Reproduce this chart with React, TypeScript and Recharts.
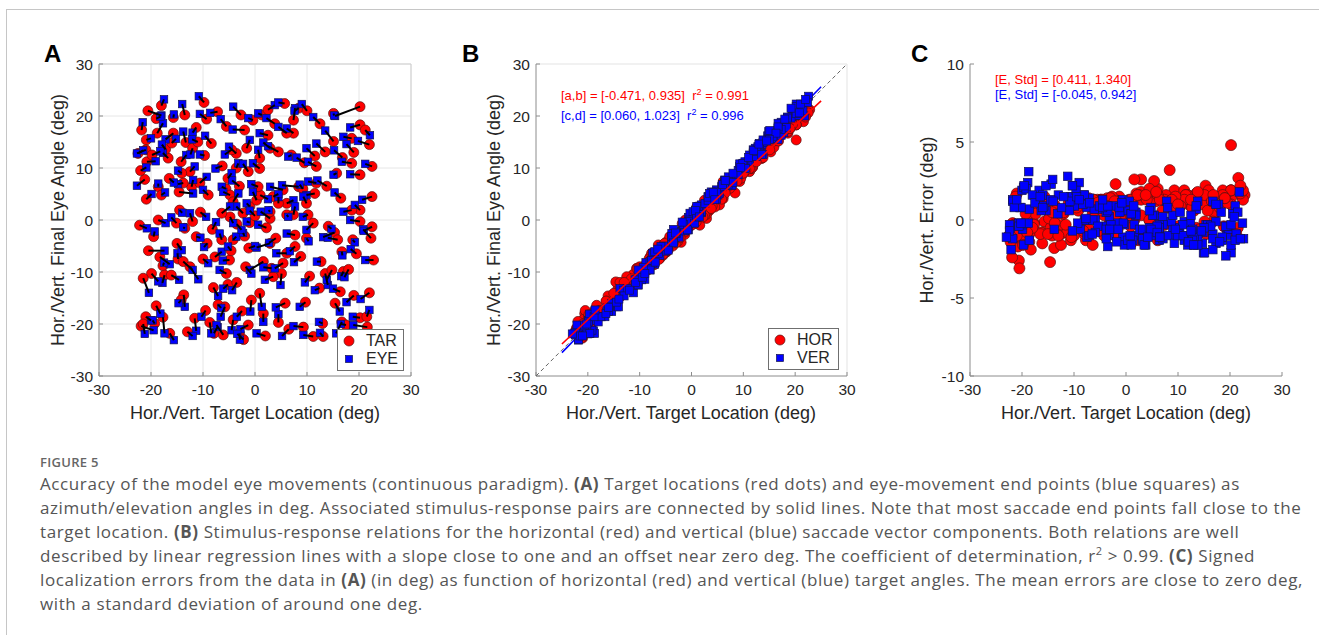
import React from 'react';
import {
  ScatterChart,
  Scatter,
  XAxis,
  YAxis,
  CartesianGrid,
  ReferenceLine,
  Legend,
} from 'recharts';

// target locations (deg)
const tarX = [
  -20.6, -21.8, -13.5, -9.8, -9.3, -8.4, -11.3, -13.3, -15.7, -18.8,
  -15.7, -20.9, -21.0, -20.8, -16.7, -14.2, -9.7, -12.5, -14.1, -21.2,
  -18.6, -18.0, -20.9, -14.6, -12.2, -10.6, -9.0, -13.8, -17.2, -19.0,
  -16.0, -12.0, -22.2, -19.5, -18.6, -15.1, -14.5, -12.0, -13.5, -11.3,
  -20.5, -18.3, -17.7, -14.8, -13.8, -17.4, -16.1, -19.9, -21.5, -12.5,
  -9.2, -10.0, -13.7, -14.2, -9.5, -11.6, -21.9, -21.0, -21.5, -17.7,
  -16.4, -19.3, -8.7, -7.9, -7.1, -5.8, -6.1, -3.0, -4.2, -0.7,
  0.9, 2.0, -1.3, 1.6, 4.5, -2.5, 9.3, 11.2, 9.7, 13.1,
  13.0, 15.4, 16.7, 20.2, 21.5, 21.6, 17.5, 13.5, 14.8, 16.4,
  17.0, 12.4, 12.7, 15.3, 15.9, 14.1, 18.8, 22.3, 22.5, 20.2,
  20.2, 22.8, 18.6, 16.7, 22.5, 20.2, 18.6, 15.7, 20.2, 15.1,
  20.2, 21.2, 18.6, 15.1, 13.5, 11.5, 11.8, 11.8, 11.5, 9.9,
  10.2, 11.2, 9.9, 7.7, 7.7, 6.1, 5.4, 5.1, 2.9, -1.2,
  1.6, 3.2, 3.5, -5.5, -5.2, -7.7, -4.9, -4.6, -6.4, -4.2,
  -2.0, 2.9, 2.9, -1.0, -2.3, -4.8, -6.4, -1.0, 0.3, 1.0,
  6.1, 4.5, 6.1, 7.4, 8.4, 5.4, 0.6, 3.5, -5.6, -4.8,
  -4.2, -5.2, -3.6, -1.3, 0.9, 2.9, 4.5, 0.9, -3.6, -1.6,
  -2.0, -2.7, -0.4, 1.3, 2.5, 5.7, 7.4, 8.4, 7.4, 6.1,
  2.5, 7.0, 9.5, 9.2, -22.5, -19.8, -16.5, -11.0, -7.2, -4.5,
  -6.3, -3.0, 0.0, 2.2, -3.5, 4.0, 8.8, 10.5, 18.0, 19.5,
  16.5, 13.8, 16.8, 19.0, 12.5, 10.0, 3.8, -5.5, -18.0, -22.0,
  -15.0, -8.0, -3.5, -1.8, -19.0, -13.0, -2.2, 6.5, 5.8, 19.0,
  22.0, 22.5, 22.0, -10.5, -8.2,
];
const tarY = [
  21.0, 17.3, 20.2, 22.6, 19.4, 14.7, 17.8, 14.9, 16.7, 16.7,
  19.7, 15.4, 13.5, 11.2, 11.9, 11.2, 12.4, 9.3, 9.0, 7.8,
  6.4, 4.8, 4.0, 5.4, 6.4, 7.1, 4.8, 7.1, 13.6, 19.5,
  14.8, 13.8, -1.0, -3.2, 0.0, -0.6, 1.9, -0.3, -1.6, -3.2,
  -5.9, -7.1, -8.8, -7.5, -8.0, -10.6, -10.6, -10.3, -11.2, -9.0,
  -4.5, -7.5, -14.4, -15.4, -17.4, -18.9, -20.4, -18.6, -20.0, -18.7,
  -21.8, -19.9, -19.7, -21.8, -16.3, -16.7, -22.1, -21.8, -19.2, -15.4,
  -14.1, -22.3, -20.2, -18.0, -19.7, -17.5, -20.6, -22.4, -15.8, -22.4,
  -19.9, -16.0, -19.6, -18.8, -18.6, -20.6, -20.2, -10.3, -9.6, -13.8,
  -9.9, -13.1, -8.0, -2.4, -3.8, -1.2, -3.8, -3.5, -1.3, -0.3,
  1.9, -7.7, 1.9, -6.1, 10.3, 8.7, 10.9, 9.0, 21.8, 20.5,
  18.3, 17.3, 15.7, 15.1, 13.1, 12.3, 10.3, 7.1, 5.1, 3.2,
  1.0, -0.6, -3.5, -2.9, -5.1, -6.4, -8.3, -10.3, -4.5, -5.4,
  -8.0, -9.3, -10.9, -10.3, -12.4, -7.1, -7.7, -5.9, -3.8, -3.8,
  -3.1, 0.3, 1.6, -0.5, 1.3, 0.6, 1.3, 2.6, 3.8, 4.8,
  3.2, 3.2, 1.0, 1.0, 6.4, 5.8, 6.4, 4.5, 6.0, 4.8,
  3.5, 8.0, 10.0, 9.3, 11.9, 13.8, 13.1, 9.9, 12.8, 13.8,
  17.3, 20.2, 19.2, 20.2, 21.2, 22.4, 19.2, 21.5, 16.7, 16.7,
  16.3, 12.5, 11.0, 6.0, 12.8, 12.5, 8.0, 15.0, 20.8, 13.5,
  10.4, 6.5, 0.8, -1.5, -0.8, -3.5, -7.0, -10.8, -9.5, -6.5,
  4.2, 6.5, 12.0, 13.0, 18.5, 21.0, 18.5, 18.0, 22.0, 9.5,
  -4.5, -13.0, -12.0, -9.0, -16.5, -21.5, -23.0, -21.0, -16.0, -14.5,
  -14.0, 4.5, 14.5, 1.5, -1.8,
];
// final eye positions (deg), same order as the targets
const eyeX = [
  -18.0, -21.6, -14.0, -10.8, -10.6, -9.6, -12.0, -13.8, -17.2, -17.7,
  -15.6, -20.0, -22.7, -19.1, -17.7, -13.2, -10.6, -11.6, -14.8, -22.7,
  -18.6, -17.3, -19.9, -11.9, -11.9, -9.3, -10.0, -14.8, -17.9, -18.2,
  -15.2, -12.4, -20.8, -19.3, -17.2, -16.1, -14.0, -12.5, -13.8, -10.5,
  -17.4, -16.4, -17.5, -14.9, -12.0, -17.8, -14.6, -18.6, -20.4, -10.9,
  -9.8, -9.0, -13.5, -14.7, -10.3, -11.3, -19.5, -20.0, -21.2, -17.4,
  -15.6, -19.7, -8.4, -7.2, -6.5, -6.6, -7.4, -2.9, -4.5, -0.9,
  1.3, 0.3, -2.8, 1.6, 4.5, -3.5, 7.4, 9.3, 8.6, 12.5,
  12.3, 16.3, 15.6, 18.8, 22.0, 18.9, 16.5, 14.0, 13.8, 15.0,
  16.6, 11.5, 11.9, 13.1, 14.0, 14.7, 19.2, 20.8, 20.9, 18.3,
  19.2, 21.2, 17.0, 16.8, 21.2, 18.3, 16.7, 15.1, 15.4, 15.2,
  18.3, 22.1, 17.0, 13.5, 11.8, 9.9, 10.2, 10.2, 9.9, 9.3,
  9.2, 9.9, 10.3, 6.1, 6.7, 4.1, 3.8, 4.9, 0.3, 0.0,
  -1.0, 1.6, 1.9, -6.8, -6.1, -6.4, -6.2, -5.2, -6.8, -3.6,
  -2.3, 1.1, 2.6, -1.6, -3.6, -4.2, -4.8, -1.6, -0.4, 2.5,
  7.4, 4.5, 6.4, 7.7, 5.2, 2.9, -0.7, 4.5, -6.4, -6.1,
  -3.2, -4.5, -3.2, -2.3, 0.6, 1.6, 2.5, -0.4, -5.0, -1.0,
  -4.3, -4.2, -1.3, 0.6, 3.8, 4.5, 7.7, 7.6, 6.1, 4.5,
  0.9, 6.4, 8.0, 8.6, -21.5, -18.2, -15.6, -12.1, -8.6, -5.8,
  -7.6, -4.4, -1.0, 0.6, -2.6, 2.7, 7.5, 9.6, 17.2, 18.4,
  15.3, 12.0, 15.2, 17.6, 11.2, 9.0, 2.2, -6.6, -17.5, -20.9,
  -14.1, -7.1, -4.4, -0.7, -18.2, -12.0, -3.4, 5.2, 4.0, 17.6,
  20.3, 20.6, 19.8, -9.4, -7.5,
];
const eyeY = [
  20.1, 18.8, 22.3, 23.8, 20.4, 16.2, 16.8, 17.0, 15.5, 18.6,
  20.3, 15.7, 12.8, 11.3, 12.9, 12.5, 12.6, 10.3, 9.5, 6.6,
  7.0, 5.3, 5.0, 5.1, 7.7, 8.3, 5.8, 6.9, 14.5, 19.9,
  15.6, 12.6, -1.6, -2.2, -0.6, 0.5, 1.4, 1.3, -1.4, -3.4,
  -5.9, -8.5, -8.2, -6.4, -9.6, -12.1, -11.5, -11.8, -14.0, -11.4,
  -5.2, -8.3, -16.7, -16.0, -18.6, -21.3, -21.2, -19.3, -21.9, -21.8,
  -23.1, -19.3, -21.8, -20.6, -16.9, -18.6, -20.2, -23.0, -21.2, -17.6,
  -16.7, -21.8, -21.0, -19.6, -18.1, -18.6, -20.4, -22.1, -16.7, -21.7,
  -19.6, -17.6, -21.8, -18.6, -17.3, -20.2, -20.0, -12.5, -11.5, -13.2,
  -10.8, -13.5, -8.0, -3.3, -3.4, -1.7, -4.3, -1.8, -2.1, 0.0,
  2.9, -7.7, 1.6, -6.8, 10.8, 8.8, 11.2, 8.7, 20.0, 20.1,
  17.8, 16.3, 16.0, 17.2, 14.7, 13.8, 11.2, 7.4, 4.8, 4.5,
  0.6, -1.9, -4.1, -2.6, -6.0, -6.4, -9.3, -12.5, -5.3, -5.0,
  -9.6, -9.1, -11.5, -9.6, -13.2, -6.1, -7.8, -5.1, -2.6, -3.2,
  -2.5, 1.6, 1.9, -0.3, 2.6, -0.6, 2.6, 3.2, 5.4, 4.0,
  3.8, 4.4, 0.6, 2.6, 6.7, 6.4, 6.9, 5.0, 6.4, 5.4,
  5.1, 9.0, 10.9, 10.8, 13.5, 14.9, 14.2, 10.9, 14.1, 15.4,
  17.4, 21.8, 19.6, 20.5, 22.1, 22.6, 21.5, 21.0, 17.6, 17.9,
  16.7, 12.2, 12.0, 6.8, 13.4, 13.2, 7.2, 15.5, 20.6, 12.6,
  9.9, 7.6, 1.8, -0.9, -1.9, -4.4, -8.1, -12.0, -11.0, -5.6,
  5.3, 7.6, 13.4, 14.6, 19.8, 22.3, 19.6, 19.4, 23.2, 10.1,
  -5.8, -14.6, -13.5, -10.3, -18.0, -22.3, -21.9, -22.3, -16.8, -15.8,
  -15.2, 3.9, 15.2, 0.6, -0.4,
];

const angleTicks = [-30, -20, -10, 0, 10, 20, 30];
const errorTicks = [-10, -5, 0, 5, 10];
// regression [offset, slope] printed in panel B
const fitHor = [-0.471, 0.935];
const fitVer = [0.06, 1.023];
const fitRange = [-25, 25];

const FONT = '"Liberation Sans", Arial, Helvetica, sans-serif';
const CAPTION_FONT = '"Open Sans", "Noto Sans", sans-serif';
const RED = '#ff0000';
const BLUE = '#0000ff';
const AXIS = '#8c8c8c';

const targets = tarX.map((x, i) => ({ x, y: tarY[i] }));
const eyes = eyeX.map((x, i) => ({ x, y: eyeY[i] }));
const horResp = tarX.map((x, i) => ({ x, y: eyeX[i] }));
const verResp = tarY.map((x, i) => ({ x, y: eyeY[i] }));
const horErr = tarX.map((x, i) => ({ x, y: +(x - eyeX[i]).toFixed(2) }));
const verErr = tarY.map((x, i) => ({ x, y: +(x - eyeY[i]).toFixed(2) }));
const fitLine = (c: number[]) => fitRange.map((x) => ({ x, y: c[0] + c[1] * x }));
const diagonal = [{ x: -30, y: -30 }, { x: 30, y: 30 }];

const dot = (r: number) => (p: any) => (
  <circle cx={p.cx} cy={p.cy} r={r} fill={RED} stroke="#5a1010" strokeWidth={0.7} />
);
const square = (s: number) => (p: any) => (
  <rect x={p.cx - s / 2} y={p.cy - s / 2} width={s} height={s} fill={BLUE} stroke="#14144a" strokeWidth={0.7} />
);
const noMark = () => <g />;

const tickStyle = { fontSize: 15.5, fill: '#262626', fontFamily: FONT };

const xAxisFor = (ticks: number[]) => (
  <XAxis
    type="number"
    dataKey="x"
    domain={[ticks[0], ticks[ticks.length - 1]]}
    ticks={ticks}
    tick={tickStyle}
    tickSize={-4}
    tickMargin={12}
    axisLine={{ stroke: AXIS }}
    tickLine={{ stroke: AXIS }}
    height={64}
    allowDataOverflow
  />
);
const yAxisFor = (ticks: number[]) => (
  <YAxis
    type="number"
    dataKey="y"
    domain={[ticks[0], ticks[ticks.length - 1]]}
    ticks={ticks}
    tick={tickStyle}
    tickSize={-4}
    tickMargin={10}
    axisLine={{ stroke: AXIS }}
    tickLine={{ stroke: AXIS }}
    width={69}
    allowDataOverflow
  />
);

const LegendBox = ({ items }: { items: { label: string; kind: 'dot' | 'sq' }[] }) => (
  <div
    style={{
      border: '1px solid #6f6f6f',
      background: '#fff',
      padding: '2px 0',
      fontFamily: FONT,
      fontSize: 16,
      color: '#262626',
    }}
  >
    {items.map((it) => (
      <div key={it.label} style={{ display: 'flex', alignItems: 'center', height: 18 }}>
        <svg width={24} height={18}>
          {it.kind === 'dot' ? (
            <circle cx={11} cy={9} r={5} fill={RED} stroke="#5a1010" strokeWidth={0.7} />
          ) : (
            <rect x={7.5} y={5.5} width={7} height={7} fill={BLUE} stroke="#14144a" strokeWidth={0.7} />
          )}
        </svg>
        <span style={{ marginLeft: 4 }}>{it.label}</span>
      </div>
    ))}
  </div>
);

const abs = (left: number, top: number, extra: React.CSSProperties = {}): React.CSSProperties => ({
  position: 'absolute',
  left,
  top,
  ...extra,
});

const PanelLetter = ({ x, text }: { x: number; text: string }) => (
  <div style={abs(x, 42, { fontFamily: FONT, fontWeight: 700, fontSize: 24, lineHeight: '24px', color: '#000' })}>
    {text}
  </div>
);

const XTitle = ({ cx }: { cx: number }) => (
  <div
    style={abs(cx - 160, 404, {
      width: 320,
      textAlign: 'center',
      fontFamily: FONT,
      fontSize: 18,
      lineHeight: '18px',
      color: '#262626',
    })}
  >
    Hor./Vert. Target Location (deg)
  </div>
);

const YTitle = ({ cx, text }: { cx: number; text: string }) => (
  <div
    style={abs(cx - 160, 220 - 9, {
      width: 320,
      textAlign: 'center',
      fontFamily: FONT,
      fontSize: 18,
      lineHeight: '18px',
      color: '#262626',
      transform: 'rotate(-90deg)',
    })}
  >
    {text}
  </div>
);

const chartMargin = { top: 24, right: 19, bottom: 0, left: 0 };

// base layer of panel A: grid, axes, target dots
const PanelA = () => (
  <ScatterChart width={400} height={400} margin={chartMargin}>
    <CartesianGrid stroke="#e6e6e6" />
    {xAxisFor(angleTicks)}
    {yAxisFor(angleTicks)}
    <ReferenceLine y={30} stroke="#cfcfcf" />
    <ReferenceLine x={30} stroke="#cfcfcf" />
    <Scatter data={targets} shape={dot(5)} isAnimationActive={false} />
  </ScatterChart>
);

// top layer of panel A (same plot box): eye end points, then the stimulus-response links over them
const PanelALinks = () => (
  <ScatterChart width={400} height={400} margin={{ top: 24, right: 19, bottom: 64, left: 69 }}>
    <XAxis type="number" dataKey="x" domain={[-30, 30]} hide allowDataOverflow />
    <YAxis type="number" dataKey="y" domain={[-30, 30]} hide allowDataOverflow />
    <Scatter data={eyes} shape={square(7.5)} isAnimationActive={false} />
    {tarX.map((x, i) => (
      <Scatter
        key={`pair-${i}`}
        data={[{ x, y: tarY[i] }, { x: eyeX[i], y: eyeY[i] }]}
        line={{ stroke: '#000', strokeWidth: 2 }}
        shape={noMark}
        isAnimationActive={false}
      />
    ))}
    <Legend
      layout="vertical"
      align="center"
      verticalAlign="middle"
      wrapperStyle={{ left: 307, top: 289, width: 67 }}
      content={() => (
        <LegendBox items={[{ label: 'TAR', kind: 'dot' }, { label: 'EYE', kind: 'sq' }]} />
      )}
    />
  </ScatterChart>
);

const PanelB = () => (
  <ScatterChart width={400} height={400} margin={{ top: 24, right: 20, bottom: 0, left: 0 }}>
    {xAxisFor(angleTicks)}
    {yAxisFor(angleTicks)}
    <ReferenceLine y={30} stroke="#e3e3e3" />
    <ReferenceLine x={30} stroke="#e3e3e3" />
    <Scatter
      data={diagonal}
      line={{ stroke: '#666', strokeWidth: 1, strokeDasharray: '4 3' }}
      shape={noMark}
      isAnimationActive={false}
    />
    <Scatter data={fitLine(fitVer)} line={{ stroke: BLUE, strokeWidth: 1.6 }} shape={noMark} isAnimationActive={false} />
    <Scatter data={horResp} shape={dot(5)} isAnimationActive={false} />
    <Scatter data={verResp} shape={square(8)} isAnimationActive={false} />
    <Scatter data={fitLine(fitHor)} line={{ stroke: RED, strokeWidth: 1.6 }} shape={noMark} isAnimationActive={false} />
    <Legend
      layout="vertical"
      align="center"
      verticalAlign="middle"
      wrapperStyle={{ left: 301, top: 288, width: 71 }}
      content={() => (
        <LegendBox items={[{ label: 'HOR', kind: 'dot' }, { label: 'VER', kind: 'sq' }]} />
      )}
    />
  </ScatterChart>
);

const PanelC = () => (
  <ScatterChart width={400} height={400} margin={chartMargin}>
    {xAxisFor(angleTicks)}
    {yAxisFor(errorTicks)}
    <Scatter data={horErr} shape={dot(5.5)} isAnimationActive={false} />
    <Scatter data={verErr} shape={square(8.5)} isAnimationActive={false} />
  </ScatterChart>
);

const noteStyle: React.CSSProperties = { fontFamily: FONT, fontSize: 13, whiteSpace: 'nowrap' };

export default function App() {
  return (
    <div
      style={{
        position: 'absolute',
        left: 0,
        top: 0,
        width: 1319,
        height: 635,
        background: '#fff',
        overflow: 'hidden',
        fontFamily: FONT,
      }}
    >
      <div style={abs(6, 9, { width: 1313, height: 626, borderTop: '1px solid #c6c6c6', borderLeft: '1px solid #c6c6c6' })} />

      <div style={abs(30, 40)}>
        <PanelA />
      </div>
      <div style={abs(30, 40, { pointerEvents: 'none' })}>
        <PanelALinks />
      </div>
      <div style={abs(467, 40)}>
        <PanelB />
      </div>
      <div style={abs(901, 40)}>
        <PanelC />
      </div>

      <PanelLetter x={44} text="A" />
      <PanelLetter x={462} text="B" />
      <PanelLetter x={911} text="C" />

      <YTitle cx={58} text="Hor./Vert. Final Eye Angle (deg)" />
      <YTitle cx={494} text="Hor./Vert. Final Eye Angle (deg)" />
      <YTitle cx={927} text="Hor./Vert. Error (deg)" />
      <XTitle cx={255} />
      <XTitle cx={691} />
      <XTitle cx={1126} />

      <div style={abs(561, 84, { ...noteStyle, lineHeight: '16px' })}>
        <div style={{ color: RED }}>
          [a,b] = [-0.471, 0.935]&nbsp;&nbsp;r<sup style={{ fontSize: 9 }}>2</sup> = 0.991
        </div>
        <div style={{ color: BLUE }}>
          [c,d] = [0.060, 1.023]&nbsp;&nbsp;r<sup style={{ fontSize: 9 }}>2</sup> = 0.996
        </div>
      </div>
      <div style={abs(995, 72, { ...noteStyle, lineHeight: '15px' })}>
        <div style={{ color: RED }}>[E, Std] = [0.411, 1.340]</div>
        <div style={{ color: BLUE }}>[E, Std] = [-0.045, 0.942]</div>
      </div>

      <div style={abs(40, 452, { fontFamily: CAPTION_FONT, color: '#555', whiteSpace: 'nowrap' })}>
        <div style={{ fontSize: 13, lineHeight: '20px', fontWeight: 600, color: '#666', letterSpacing: 0.3 }}>
          FIGURE 5
        </div>
        <div style={{ fontSize: 17, lineHeight: '24px', letterSpacing: 0.6 }}>
          <div>
            Accuracy of the model eye movements (continuous paradigm). <b>(A)</b> Target locations (red dots) and
            eye-movement end points (blue squares) as
          </div>
          <div>
            azimuth/elevation angles in deg. Associated stimulus-response pairs are connected by solid lines. Note that
            most saccade end points fall close to the
          </div>
          <div>
            target location. <b>(B)</b> Stimulus-response relations for the horizontal (red) and vertical (blue)
            saccade vector components. Both relations are well
          </div>
          <div>
            described by linear regression lines with a slope close to one and an offset near zero deg. The coefficient
            of determination, r<sup style={{ fontSize: 11, lineHeight: 0 }}>2</sup> &gt; 0.99. <b>(C)</b> Signed
          </div>
          <div>
            localization errors from the data in <b>(A)</b> (in deg) as function of horizontal (red) and vertical
            (blue) target angles. The mean errors are close to zero deg,
          </div>
          <div>with a standard deviation of around one deg.</div>
        </div>
      </div>
    </div>
  );
}
